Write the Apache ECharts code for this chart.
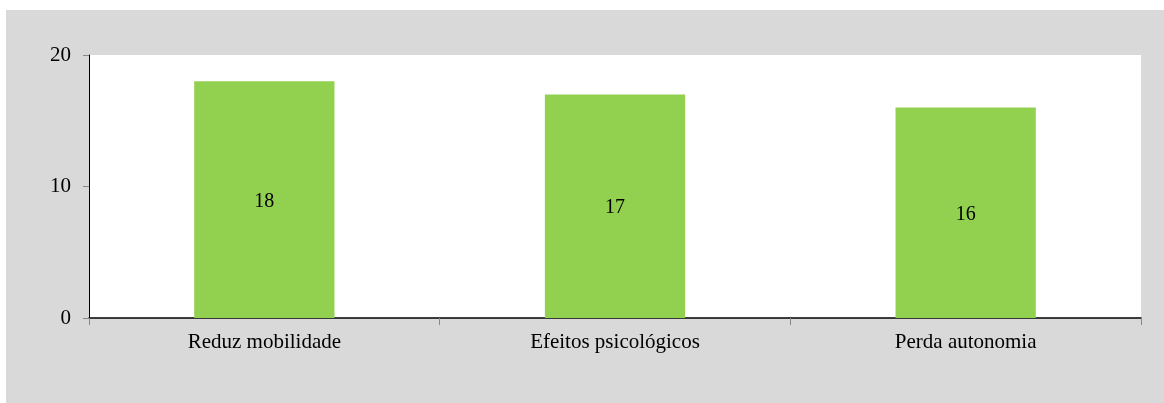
<!DOCTYPE html>
<html><head><meta charset="utf-8">
<script src="https://cdn.jsdelivr.net/npm/echarts@6/dist/echarts.min.js"></script>
<style>html,body{margin:0;padding:0;background:#fff}#c{width:1164px;height:403px}</style>
</head><body><div id="c"></div>
<script>
const categories = ["Reduz mobilidade", "Efeitos psicológicos", "Perda autonomia"];
const values = [18, 17, 16];
const yTicks = [0, 10, 20];

const chart = echarts.init(document.getElementById('c'), null, {renderer: 'canvas'});
const font = '"Liberation Serif", "Times New Roman", serif';
chart.setOption({
  animation: false,
  backgroundColor: '#ffffff',
  graphic: [{type: 'rect', left: 6, top: 10, shape: {width: 1158, height: 393}, style: {fill: '#d9d9d9'}, z: -10}],
  grid: {left: 89, right: 23, top: 55, bottom: 85, show: true, backgroundColor: '#ffffff', borderWidth: 0},
  xAxis: {
    type: 'category', data: categories,
    axisLine: {show: true, lineStyle: {color: '#000', width: 1.5}},
    axisTick: {show: true, length: 7, lineStyle: {color: '#888'}},
    axisLabel: {color: '#000', fontFamily: font, fontSize: 21, margin: 14}
  },
  yAxis: {
    type: 'value', min: yTicks[0], max: yTicks[yTicks.length - 1], interval: 10,
    splitLine: {show: false},
    axisLine: {show: true, lineStyle: {color: '#000', width: 1}},
    axisTick: {show: true, length: 6, lineStyle: {color: '#888'}},
    axisLabel: {color: '#000', fontFamily: font, fontSize: 21, margin: 18}
  },
  series: [{
    type: 'bar', data: values, barWidth: '40%',
    itemStyle: {color: '#92d050'},
    label: {show: true, position: 'inside', offset: [0, 2], color: '#000', fontFamily: font, fontSize: 20}
  }]
});
</script></body></html>
